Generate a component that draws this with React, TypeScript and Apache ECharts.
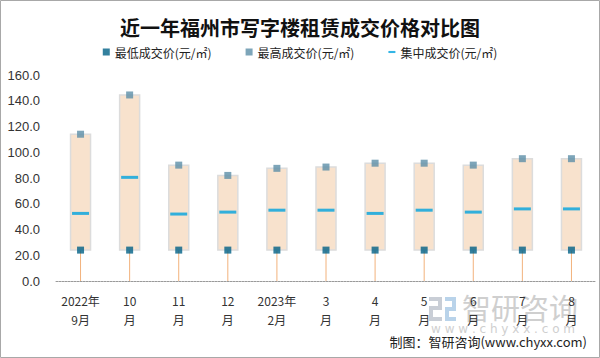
import React, { useEffect, useRef } from "react";
import * as echarts from "echarts";

const categories = ["2022年\n9月", "10\n月", "11\n月", "12\n月", "2023年\n2月", "3\n月", "4\n月", "5\n月", "6\n月", "7\n月", "8\n月"];
const minPrice = [24, 24, 24, 24, 24, 24, 24, 24, 24, 24, 24];
const maxPrice = [114, 144.5, 90, 82, 87.5, 88.5, 91.5, 91.5, 90, 95, 95];
const midPrice = [52.5, 80.5, 52, 53.5, 55, 55, 52.5, 55, 53.5, 56, 56];
const yTicks = { min: 0, max: 160, interval: 20 };

const NAME_MIN = "最低成交价(元/㎡)";
const NAME_MAX = "最高成交价(元/㎡)";
const NAME_MID = "集中成交价(元/㎡)";

export default function App() {
  const ref = useRef<HTMLDivElement>(null);
  useEffect(() => {
    if (!ref.current) return;
    const chart = echarts.init(ref.current, null, { renderer: "svg" });
    const boxData = categories.map((_, i) => [i, minPrice[i], maxPrice[i]]);
    const font = "'Noto Sans CJK SC', 'Noto Sans', sans-serif";
    chart.setOption({
      animation: false,
      backgroundColor: "#fff",
      title: {
        text: "近一年福州市写字楼租赁成交价格对比图",
        left: "center",
        top: 12,
        textStyle: { fontSize: 20, fontWeight: "bold", color: "#111", fontFamily: font },
      },
      legend: {
        top: 41,
        left: "center",
        itemGap: 34,
        itemWidth: 7,
        itemHeight: 7,
        textStyle: { fontSize: 12, color: "#222", fontFamily: font },
        data: [
          { name: NAME_MIN, icon: "rect" },
          { name: NAME_MAX, icon: "rect" },
          { name: NAME_MID, icon: "path://M0,0h10v3h-10z" },
        ],
      },
      grid: { left: 56, right: 4, top: 75, bottom: 77 },
      xAxis: {
        type: "category",
        data: categories,
        boundaryGap: true,
        axisLine: { lineStyle: { color: "#9a9a9a", type: [2, 1], width: 1 } },
        axisTick: { show: false },
        axisLabel: { color: "#333", fontSize: 12, lineHeight: 19, margin: 10, interval: 0, fontFamily: font },
      },
      yAxis: {
        type: "value",
        min: yTicks.min,
        max: yTicks.max,
        interval: yTicks.interval,
        splitLine: { show: false },
        axisLine: { show: false },
        axisTick: { show: false },
        axisLabel: {
          color: "#333",
          fontSize: 13,
          margin: 16,
          fontFamily: "'Liberation Sans', Arial, sans-serif",
          formatter: (v: number) => v.toFixed(1),
        },
      },
      series: [
        {
          type: "custom",
          name: "box",
          z: 1,
          encode: { x: 0, y: [1, 2] },
          data: boxData,
          renderItem: (params: any, api: any) => {
            const x = api.value(0);
            const lo = api.coord([x, api.value(1)]);
            const hi = api.coord([x, api.value(2)]);
            const base = api.coord([x, 0]);
            return {
              type: "group",
              children: [
                {
                  type: "line",
                  shape: { x1: base[0], y1: base[1], x2: lo[0], y2: lo[1] },
                  style: { stroke: "#F2B27C", lineWidth: 1 },
                },
                {
                  type: "rect",
                  shape: { x: lo[0] - 10, y: hi[1], width: 20, height: lo[1] - hi[1] },
                  style: { fill: "#F8E2CD", stroke: "#DCDCDC", lineWidth: 1.5 },
                },
              ],
            };
          },
        },
        {
          type: "scatter",
          name: NAME_MIN,
          z: 3,
          symbol: "rect",
          symbolSize: 7,
          itemStyle: { color: "#006086" },
          data: minPrice,
        },
        {
          type: "scatter",
          name: NAME_MAX,
          z: 3,
          symbol: "rect",
          symbolSize: 7,
          itemStyle: { color: "#5D8FA8" },
          data: maxPrice,
        },
        {
          type: "scatter",
          name: NAME_MID,
          z: 3,
          symbol: "rect",
          symbolSize: [17, 3],
          itemStyle: { color: "#00A3DF" },
          data: midPrice,
        },
      ],
      graphic: [
        {
          type: "rect",
          shape: { x: 0.5, y: 0.5, width: 599, height: 357 },
          style: { fill: "none", stroke: "#a8a8a8", lineWidth: 1 },
          silent: true,
          z: 100,
        },
        {
          type: "group",
          left: 429,
          top: 297,
          z: 0,
          children: [
            { type: "rect", shape: { x: 0, y: 0, width: 13, height: 4 }, style: { fill: "#c9ced6" } },
            { type: "rect", shape: { x: 9, y: 0, width: 4, height: 12 }, style: { fill: "#c9ced6" } },
            { type: "rect", shape: { x: 0, y: 9, width: 13, height: 4 }, style: { fill: "#c9ced6" } },
            { type: "rect", shape: { x: 0, y: 9, width: 4, height: 15 }, style: { fill: "#c9ced6" } },
            { type: "rect", shape: { x: 0, y: 20, width: 13, height: 4 }, style: { fill: "#c9ced6" } },
            { type: "rect", shape: { x: 16, y: 0, width: 11, height: 4 }, style: { fill: "#b9d3ea" } },
            { type: "rect", shape: { x: 23, y: 0, width: 4, height: 12 }, style: { fill: "#b9d3ea" } },
            { type: "rect", shape: { x: 16, y: 10, width: 11, height: 4 }, style: { fill: "#b9d3ea" } },
            { type: "rect", shape: { x: 16, y: 10, width: 4, height: 14 }, style: { fill: "#b9d3ea" } },
            { type: "rect", shape: { x: 16, y: 20, width: 11, height: 4 }, style: { fill: "#b9d3ea" } },
          ],
        },
        {
          type: "text",
          left: 462,
          top: 292,
          z: 0,
          style: { text: "智研咨询", fontSize: 29, fill: "#cfcfcf", fontFamily: font },
        },
        {
          type: "text",
          left: 431,
          top: 323,
          z: 0,
          style: { text: "w w w . c h y x x . c o m", fontSize: 12, fill: "#cfcfcf", fontFamily: "'DejaVu Sans', sans-serif" },
        },
        {
          type: "text",
          right: 13,
          top: 335,
          z: 5,
          style: { text: "制图：智研咨询(www.chyxx.com)", fontSize: 13, fill: "#222", fontFamily: font },
        },
      ],
    });
    return () => chart.dispose();
  }, []);
  return <div ref={ref} style={{ position: "absolute", left: 0, top: 0, width: 600, height: 358 }} />;
}
